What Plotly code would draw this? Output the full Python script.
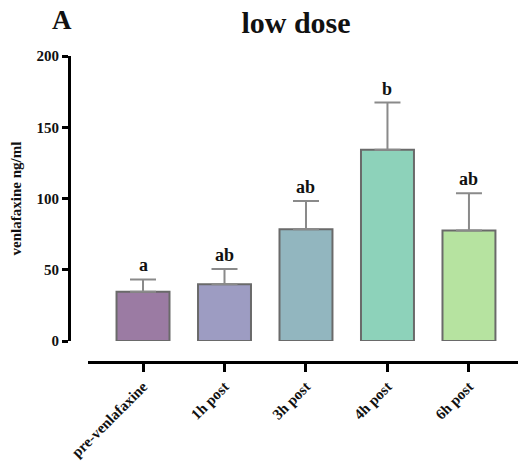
import plotly.graph_objects as go

categories = ["pre-venlafaxine", "1h post", "3h post", "4h post", "6h post"]
means = [34.5, 39.8, 78.5, 134.3, 77.6]
errors = [8.7, 10.8, 19.7, 33.0, 26.1]
letters = ["a", "ab", "ab", "b", "ab"]
colors = ["#9B7BA3", "#9D9CC2", "#92B6BF", "#8DD2BA", "#B6E3A0"]
y_ticks = [0, 50, 100, 150, 200]

font_family = "Liberation Serif"

fig = go.Figure()
fig.add_trace(go.Bar(
    x=list(range(len(categories))),
    y=means,
    width=0.65,
    marker=dict(color=colors, line=dict(color="#6a6a6a", width=2)),
    error_y=dict(type="data", symmetric=False, array=errors,
                 arrayminus=[0] * len(errors), color="#8a8a8a",
                 thickness=2, width=13),
    showlegend=False,
))

for i, (m, e, t) in enumerate(zip(means, errors, letters)):
    fig.add_annotation(x=i, y=m + e, text="<b>" + t + "</b>", showarrow=False,
                       yanchor="bottom", yshift=2,
                       font=dict(family=font_family, size=18, color="#111"))

fig.add_annotation(xref="paper", yref="paper", x=(62 - 69) / 457, y=(462 - 100 - 20) / 306,
                   xanchor="center", yanchor="middle",
                   text="<b>A</b>", showarrow=False,
                   font=dict(family=font_family, size=27, color="#111"))

fig.update_layout(
    width=518, height=454,
    margin=dict(l=61, r=0, t=48, b=100),
    paper_bgcolor="white", plot_bgcolor="white",
    title=dict(text="<b>low dose</b>", x=288 / 518, xanchor="center",
               y=1 - 14 / 454, yanchor="middle",
               font=dict(family=font_family, size=30, color="#111")),
    xaxis=dict(
        domain=[0.0416, 1],
        range=[-0.675, 4.70],
        tickmode="array",
        tickvals=list(range(len(categories))),
        ticktext=["<b>" + c + "</b>" for c in categories],
        tickangle=-45,
        showline=True, linecolor="black", linewidth=3,
        ticks="outside", ticklen=8, tickwidth=3, tickcolor="black",
        showgrid=False, zeroline=False,
        anchor="free", position=0,
        automargin=False,
        tickfont=dict(family=font_family, size=15, color="#111"),
    ),
    yaxis=dict(
        domain=[0.0686, 1],
        range=[0, 200],
        tickvals=y_ticks,
        ticktext=["<b>%d</b>" % v for v in y_ticks],
        showline=True, linecolor="black", linewidth=3,
        ticks="outside", ticklen=6, tickwidth=3, tickcolor="black",
        showgrid=False, zeroline=False,
        anchor="free", position=0,
        automargin=False,
        tickfont=dict(family=font_family, size=15, color="#111"),
        title=dict(text="<b>venlafaxine ng/ml</b>", standoff=10,
                   font=dict(family=font_family, size=15, color="#111")),
    ),
)

fig.write_html("out.html")
